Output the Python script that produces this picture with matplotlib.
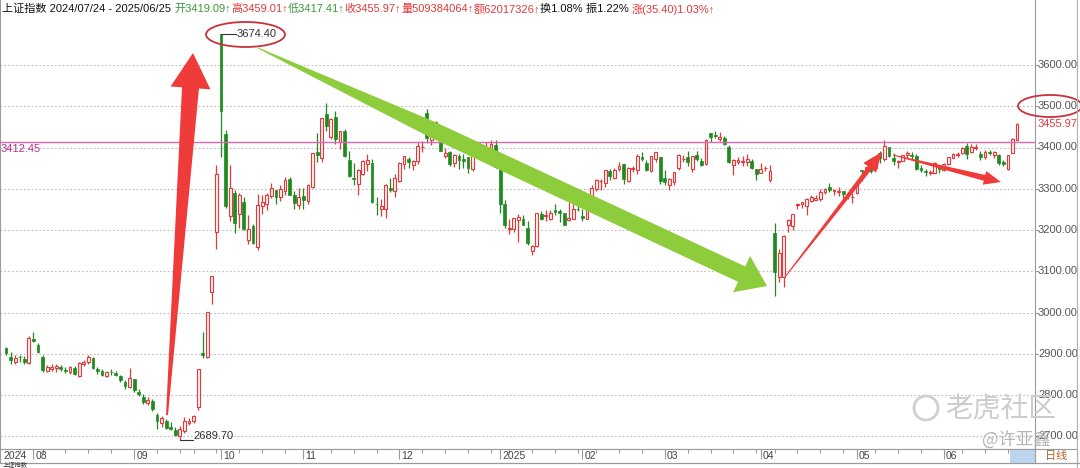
import matplotlib
matplotlib.use('Agg')
import matplotlib.pyplot as plt
import matplotlib.transforms as mtrans
from matplotlib.patches import Polygon, Ellipse, Rectangle
import numpy as np
import pandas as pd

plt.rcParams['font.family'] = ['Liberation Sans', 'Noto Sans CJK SC', 'DejaVu Sans']

# ---- data: 上证指数 daily candles, 2024/07/24 - 2025/06/25 ----
dates = (
    ['2024-07-%02d' % d for d in [24, 25, 26, 29, 30, 31]] +
    ['2024-08-%02d' % d for d in [1, 2, 5, 6, 7, 8, 9, 12, 13, 14, 15, 16, 19, 20, 21, 22, 23, 26, 27, 28, 29, 30]] +
    ['2024-09-%02d' % d for d in [2, 3, 4, 5, 6, 9, 10, 11, 12, 13, 18, 19, 20, 23, 24, 25, 26, 27, 30]] +
    ['2024-10-%02d' % d for d in [8, 9, 10, 11, 14, 15, 16, 17, 18, 21, 22, 23, 24, 25, 28, 29, 30, 31]] +
    ['2024-11-%02d' % d for d in [1, 4, 5, 6, 7, 8, 11, 12, 13, 14, 15, 18, 19, 20, 21, 22, 25, 26, 27, 28, 29]] +
    ['2024-12-%02d' % d for d in [2, 3, 4, 5, 6, 9, 10, 11, 12, 13, 16, 17, 18, 19, 20, 23, 24, 25, 26, 27, 30, 31]] +
    ['2025-01-%02d' % d for d in [2, 3, 6, 7, 8, 9, 10, 13, 14, 15, 16, 17, 20, 21, 22, 23, 24, 27]] +
    ['2025-02-%02d' % d for d in [5, 6, 7, 10, 11, 12, 13, 14, 17, 18, 19, 20, 21, 24, 25, 26, 27, 28]] +
    ['2025-03-%02d' % d for d in [3, 4, 5, 6, 7, 10, 11, 12, 13, 14, 17, 18, 19, 20, 21, 24, 25, 26, 27, 28, 31]] +
    ['2025-04-%02d' % d for d in [1, 2, 3, 7, 8, 9, 10, 11, 14, 15, 16, 17, 18, 21, 22, 23, 24, 25, 28, 29, 30]] +
    ['2025-05-%02d' % d for d in [6, 7, 8, 9, 12, 13, 14, 15, 16, 19, 20, 21, 22, 23, 26, 27, 28, 29, 30]] +
    ['2025-06-%02d' % d for d in [3, 4, 5, 6, 9, 10, 11, 12, 13, 16, 17, 18, 19, 20, 23, 24, 25]]
)

opens = [
    2915, 2893, 2880, 2893, 2887, 2877,
    2936, 2921, 2893, 2858, 2864, 2866, 2867, 2861, 2855, 2866, 2846, 2874, 2881, 2890, 2862, 2858, 2847, 2856, 2854, 2845, 2831, 2820,
    2838, 2807, 2796, 2781, 2786, 2752, 2732, 2738, 2722, 2715, 2700, 2712, 2733, 2737, 2770, 2901, 2893, 3049, 3195,
    3674.40, 3433, 3233, 3290, 3240, 3268, 3176, 3209, 3160, 3259, 3262, 3282, 3296, 3279, 3294, 3323, 3285, 3261,
    3282, 3270, 3305, 3390, 3375, 3480, 3425, 3474, 3414, 3440, 3369, 3327, 3311, 3335, 3360, 3363, 3264, 3250, 3251, 3303, 3294,
    3319, 3361, 3371, 3358, 3368, 3401, 3484, 3419, 3431, 3445, 3380, 3389, 3362, 3380, 3372, 3376, 3349, 3391, 3393, 3396, 3397, 3407,
    3347, 3262, 3203, 3203, 3225, 3226, 3206, 3148, 3161, 3239, 3233, 3226, 3249, 3247, 3240, 3224, 3227, 3252,
    3233, 3227, 3268, 3299, 3318, 3313, 3343, 3325, 3349, 3359, 3320, 3347, 3346, 3378, 3363, 3343, 3372, 3376,
    3325, 3308, 3317, 3350, 3372, 3378, 3348, 3383, 3368, 3359, 3434, 3431, 3421, 3422, 3400, 3358, 3366, 3364, 3364, 3368, 3349,
    3339, 3350, 3321, 3193, 3086, 3085, 3212, 3209, 3261, 3262, 3258, 3271, 3273, 3274, 3293, 3305, 3294, 3291, 3294, 3285, 3279,
    3289, 3346, 3346, 3348, 3351, 3386, 3371, 3402, 3374, 3365, 3368, 3381, 3383, 3379, 3350, 3344, 3339, 3338, 3356,
    3345, 3360, 3374, 3383, 3386, 3403, 3388, 3398, 3384, 3376, 3388, 3383, 3382, 3364, 3349, 3386, 3419.09,
]
highs = [
    2917, 2905, 2897, 2898, 2894, 2942,
    2952, 2926, 2896, 2872, 2874, 2876, 2873, 2869, 2870, 2871, 2881, 2886, 2897, 2893, 2867, 2862, 2858, 2862, 2858, 2849, 2837, 2866,
    2840, 2815, 2802, 2795, 2791, 2756, 2748, 2742, 2735, 2722, 2726, 2746, 2744, 2752, 2864, 2952, 3000, 3088, 3358,
    3674.40, 3442, 3358, 3296, 3290, 3279, 3237, 3214, 3287, 3286, 3290, 3313, 3297, 3308, 3328, 3329, 3294, 3301,
    3302, 3311, 3387, 3434, 3471, 3509, 3471, 3489, 3440, 3446, 3392, 3362, 3348, 3369, 3384, 3373, 3279, 3276, 3311, 3326, 3335,
    3364, 3380, 3376, 3370, 3413, 3415, 3494, 3437, 3464, 3450, 3400, 3392, 3385, 3384, 3384, 3378, 3394, 3396, 3399, 3414, 3417, 3417,
    3352, 3273, 3227, 3230, 3240, 3237, 3223, 3164, 3240, 3246, 3248, 3249, 3263, 3250, 3240, 3268, 3265, 3260,
    3251, 3271, 3308, 3323, 3324, 3346, 3347, 3351, 3364, 3359, 3353, 3355, 3384, 3389, 3369, 3380, 3390, 3376,
    3345, 3325, 3341, 3385, 3383, 3391, 3380, 3391, 3375, 3420, 3435, 3439, 3438, 3429, 3407, 3372, 3378, 3379, 3384, 3372, 3349,
    3362, 3355, 3357, 3217, 3154, 3189, 3227, 3238, 3265, 3268, 3277, 3284, 3285, 3299, 3302, 3313, 3300, 3305, 3294, 3292, 3289,
    3317, 3346, 3353, 3351, 3371, 3391, 3417, 3402, 3387, 3369, 3382, 3391, 3388, 3384, 3358, 3347, 3346, 3364, 3358,
    3362, 3378, 3387, 3389, 3402, 3410, 3408, 3409, 3391, 3393, 3395, 3392, 3384, 3369, 3382, 3422, 3459.01,
]
lows = [
    2898, 2874, 2876, 2881, 2875, 2874,
    2929, 2903, 2855, 2855, 2858, 2856, 2857, 2854, 2852, 2848, 2843, 2870, 2876, 2864, 2852, 2845, 2844, 2848, 2845, 2832, 2815, 2816,
    2808, 2797, 2778, 2776, 2762, 2718, 2722, 2718, 2715, 2701, 2689.70, 2708, 2727, 2731, 2763, 2889, 2889, 3020, 3154,
    3377, 3254, 3221, 3193, 3205, 3199, 3165, 3165, 3152, 3240, 3248, 3277, 3263, 3271, 3284, 3284, 3250, 3252,
    3252, 3262, 3302, 3365, 3366, 3440, 3420, 3409, 3396, 3378, 3329, 3309, 3286, 3333, 3344, 3265, 3237, 3234, 3228, 3291, 3281,
    3316, 3349, 3350, 3346, 3360, 3388, 3411, 3407, 3421, 3391, 3375, 3354, 3353, 3347, 3350, 3339, 3344, 3374, 3383, 3390, 3391, 3350,
    3242, 3205, 3191, 3196, 3170, 3211, 3164, 3140, 3159, 3225, 3222, 3225, 3237, 3220, 3212, 3223, 3227, 3245,
    3223, 3226, 3265, 3295, 3298, 3305, 3322, 3323, 3342, 3311, 3316, 3341, 3336, 3368, 3342, 3341, 3364, 3311,
    3310, 3296, 3310, 3345, 3365, 3354, 3340, 3368, 3355, 3358, 3413, 3423, 3416, 3405, 3362, 3333, 3360, 3356, 3356, 3347, 3322,
    3337, 3344, 3316, 3040.69, 3073, 3063, 3194, 3200, 3250, 3254, 3237, 3268, 3273, 3271, 3287, 3293, 3286, 3283, 3275, 3275, 3265,
    3288, 3320, 3336, 3338, 3346, 3363, 3368, 3378, 3358, 3350, 3367, 3375, 3371, 3346, 3340, 3330, 3334, 3337, 3339,
    3343, 3358, 3374, 3377, 3385, 3373, 3386, 3395, 3370, 3372, 3381, 3374, 3358, 3355, 3346, 3386, 3417.41,
]
closes = [
    2901, 2886, 2890, 2891, 2879, 2938,
    2932, 2905, 2861, 2867, 2869, 2870, 2862, 2858, 2868, 2850, 2877, 2879, 2893, 2866, 2857, 2848, 2855, 2855, 2848, 2837, 2823, 2842,
    2811, 2802, 2784, 2788, 2765, 2736, 2744, 2721, 2717, 2704, 2717, 2736, 2736.8, 2748, 2863, 2896, 3000, 3088, 3336,
    3489, 3258, 3301, 3217, 3284, 3202, 3202, 3169, 3261, 3268, 3285, 3302, 3280, 3300, 3322, 3286, 3266, 3279,
    3272, 3310, 3387, 3383, 3471, 3452, 3470, 3421, 3439, 3380, 3330, 3324, 3346, 3368, 3370, 3267, 3263, 3259, 3310, 3296, 3326,
    3363, 3379, 3364, 3368, 3404, 3402, 3422, 3432, 3461, 3391, 3386, 3361, 3382, 3370, 3368, 3351, 3393, 3394, 3398, 3400, 3408, 3352,
    3262, 3211, 3206, 3230, 3231, 3211, 3169, 3160, 3240, 3227, 3236, 3241, 3244, 3242, 3213, 3230, 3252, 3250,
    3229, 3270, 3303, 3322, 3318, 3346, 3332, 3346, 3355, 3324, 3351, 3350, 3379, 3373, 3346, 3380, 3388, 3320,
    3316, 3324, 3341, 3381, 3372, 3366, 3379, 3371, 3358, 3419, 3426, 3429, 3426, 3408, 3364, 3370, 3369, 3368, 3373, 3351, 3336,
    3348, 3350, 3342, 3097, 3145, 3186, 3224, 3238, 3263, 3267, 3276, 3281, 3277, 3292, 3300, 3296, 3297, 3295, 3288, 3286, 3279,
    3316, 3343, 3352, 3342, 3370, 3374, 3404, 3380, 3367, 3367, 3381, 3387, 3380, 3348, 3346, 3340, 3340, 3363, 3347,
    3361, 3376, 3384, 3385, 3399, 3385, 3402, 3402, 3377, 3388, 3387, 3388, 3362, 3359, 3381, 3420.57, 3455.97,
]

ref_level = 3412.45
price_levels = [2700, 2800, 2900, 3000, 3100, 3200, 3300, 3400, 3500, 3600]
last_volume = 509384064
last_amount = 62017326
last_turnover = 1.08

RED = '#e23a3a'
GREEN = '#1f8a1f'
ARROW_RED = '#f03b3b'
ARROW_GREEN = '#8dcc3a'
GRAY = '#9a9a9a'

W, H = 1080, 468


def fx(x):
    return x / W


def fy(y):
    return 1 - y / H


# pixel mapping of the original chart
STEP = 4.575          # px per trading day
X0 = 6                # px of first candle
PPX = 0.4125          # px per index point


def price_at(y):
    return 3600 - (y - 65) / PPX


def idx_at(x):
    return (x - X0) / STEP


fig = plt.figure(figsize=(W / 100, H / 100), dpi=100)
fig.patch.set_facecolor('white')
T_px = mtrans.Affine2D().scale(1 / W, -1 / H).translate(0, 1) + fig.transFigure

ax = fig.add_axes([0, fy(449), 1035 / W, 449 / H])
ax.set_xlim(idx_at(0), idx_at(1035))
ax.set_ylim(price_at(449), price_at(0))
ax.set_xticks([])
ax.set_yticks([])
ax.spines['top'].set_visible(False)
for s in ['left', 'right', 'bottom']:
    ax.spines[s].set_color(GRAY)
    ax.spines[s].set_linewidth(0.8)

# grid
for lv in price_levels:
    ax.axhline(lv, color='#bdbdbd', lw=0.8, ls=(0, (1.5, 2)), zorder=0)
    ax.plot([1.0, 1.003], [lv, lv], transform=ax.get_yaxis_transform(),
            color=GRAY, lw=0.8, clip_on=False)
    ax.text(1038 / 1035, lv, '%.2f' % lv, transform=ax.get_yaxis_transform(),
            ha='left', va='center', fontsize=8, color='#555555', clip_on=False)

# reference line
ax.axhline(ref_level, color='#e066b0', lw=1.0, zorder=3)
ax.text(idx_at(1), ref_level - 3, '%.2f' % ref_level, ha='left', va='top',
        fontsize=8, color='#c0308f')

# candles
x = np.arange(len(dates))
o = np.array(opens, float)
h = np.array(highs, float)
l = np.array(lows, float)
c = np.array(closes, float)
up = c >= o
lo_b = np.minimum(o, c)
hi_b = np.maximum(o, c)
hgt = np.maximum(hi_b - lo_b, 0.8)
bw = 0.62

ax.vlines(x[~up], l[~up], h[~up], color=GREEN, lw=0.9, zorder=2)
ax.bar(x[~up], hgt[~up], bottom=lo_b[~up], width=bw, color=GREEN,
       edgecolor=GREEN, linewidth=0.5, zorder=2)
ax.vlines(x[up], hi_b[up], h[up], color=RED, lw=0.9, zorder=2)
ax.vlines(x[up], l[up], lo_b[up], color=RED, lw=0.9, zorder=2)
ax.bar(x[up], hgt[up], bottom=lo_b[up], width=bw, facecolor='#fff0f0',
       edgecolor=RED, linewidth=0.8, zorder=2)

# high / low marks
ih = int(np.argmax(h))
il = int(np.argmin(l))
ax.plot([ih, ih + 3.2], [h[ih], h[ih]], color='#333333', lw=0.8, zorder=4)
ax.text(ih + 3.3, h[ih], '%.2f' % h[ih], ha='left', va='center', fontsize=8,
        color='#333333', zorder=4)
ax.plot([il, il + 2.8], [l[il], l[il]], color='#333333', lw=0.8, zorder=4)
ax.text(il + 2.9, l[il] + 10, '%.2f' % l[il], ha='left', va='center', fontsize=8,
        color='#333333', zorder=4)

# last close on right axis
ax.text(1038 / 1035, c[-1], '%.2f' % c[-1], transform=ax.get_yaxis_transform(),
        ha='left', va='center', fontsize=8, color=RED, clip_on=False)

# bottom date strip
ax2 = fig.add_axes([0, fy(463), 1035 / W, 14 / H])
ax2.set_xlim(ax.get_xlim())
ax2.set_ylim(0, 1)
ax2.set_xticks([])
ax2.set_yticks([])
for s in ax2.spines.values():
    s.set_color(GRAY)
    s.set_linewidth(0.8)
dt = pd.to_datetime(pd.Series(dates))
mon = dt.dt.month.to_numpy()
wk = dt.dt.isocalendar().week.astype(int).to_numpy()
month_start = np.r_[False, mon[1:] != mon[:-1]]
week_start = np.r_[False, wk[1:] != wk[:-1]]
ax2.vlines(x[week_start & ~month_start], 0.72, 1, color=GRAY, lw=0.8)
ax2.vlines(x[month_start], 0.3, 1, color=GRAY, lw=0.8)
ax2.text(idx_at(3), 0.5, '2024', ha='left', va='center', fontsize=7.5, color='#444444')
for i in x[month_start]:
    d = dt.iloc[i]
    lab = str(d.year) if d.month == 1 else '%02d' % d.month
    ax2.text(i + 0.45, 0.5, lab, ha='left', va='center', fontsize=7.5, color='#444444')

# right column border / 日线 tab
fig.add_artist(plt.Line2D([fx(1077), fx(1077)], [0, 1], color='#b0b0b0', lw=0.8))
fig.add_artist(Rectangle((1010, 450), 25, 13, transform=T_px, facecolor='#bcd5ef',
                         edgecolor='none'))
fig.add_artist(Rectangle((1035, 449), 42, 14, transform=T_px, facecolor='white',
                         edgecolor=GRAY, lw=0.8))
fig.text(fx(1056), fy(456), '日线', ha='center', va='center', fontsize=8, color='#b8602a')
fig.add_artist(plt.Line2D([0, 1], [fy(463), fy(463)], color=GRAY, lw=0.8))
fig.text(fx(3), fy(465.5), '上证指数', ha='left', va='center', fontsize=4.5, color='#333333')


# arrows
def arrow_poly(tail, tip, profile, head_half, head_len):
    tail = np.array(tail, float)
    tip = np.array(tip, float)
    d = tip - tail
    L = np.hypot(*d)
    d /= L
    n = np.array([-d[1], d[0]])
    base = L - head_len
    left, right = [], []
    for t, hw in profile:
        p = tail + d * base * t
        left.append(p + n * hw)
        right.append(p - n * hw)
    cb = tail + d * base
    head = [cb + n * head_half, tip, cb - n * head_half]
    return np.array(left + head + right[::-1])


arrows = [
    ((167, 415), (193, 53), [(0, 1.0), (1, 8.5)], 20, 35, ARROW_RED),
    ((258, 48), (767, 286), [(0, 0.5), (0.36, 8.0), (1, 8.5)], 20, 28, ARROW_GREEN),
    ((785, 277), (882, 152), [(0, 0.5), (1, 2.6)], 8, 20, ARROW_RED),
    ((893, 155), (1001, 182), [(0, 0.5), (1, 3.0)], 7, 17, ARROW_RED),
]
for tail, tip, prof, hh, hl, col in arrows:
    fig.add_artist(Polygon(arrow_poly(tail, tip, prof, hh, hl), closed=True,
                           transform=T_px, facecolor=col, edgecolor='none'))

# highlight ellipses
for (cx, cy, ew, eh) in [(245.5, 34.5, 79, 25), (1050, 106, 64, 22)]:
    fig.add_artist(Ellipse((cx, cy), ew, eh, transform=T_px, fill=False,
                           edgecolor='#c8323c', lw=1.3))

# header line
r = fig.canvas.get_renderer()
segments = [
    ('上证指数 %s - %s ' % (dates[0].replace('-', '/'), dates[-1].replace('-', '/')), '#111111'),
    ('开%.2f↑' % o[-1], '#3a9a3a'),
    ('高%.2f↑' % h[-1], RED),
    ('低%.2f↑' % l[-1], '#3a9a3a'),
    ('收%.2f↑' % c[-1], RED),
    ('量%d↑' % last_volume, RED),
    ('额%d↑' % last_amount, RED),
    ('换%.2f%% ' % last_turnover, '#111111'),
    ('振%.2f%% ' % ((h[-1] - l[-1]) / c[-2] * 100), '#111111'),
    ('涨(%.2f)%.2f%%↑' % (c[-1] - c[-2], (c[-1] - c[-2]) / c[-2] * 100), RED),
]
xpos = 2
for txt, col in segments:
    t = fig.text(fx(xpos), fy(9), txt, ha='left', va='center', fontsize=8, color=col)
    xpos = t.get_window_extent(r).x1

# watermark
fig.add_artist(Ellipse((926, 408), 24, 24, transform=T_px, fill=False,
                       edgecolor='#d0d0d0', lw=2))
fig.text(fx(945), fy(409), '老虎社区', ha='left', va='center', fontsize=20,
         color='#cccccc', family=['Noto Sans CJK SC'])
fig.text(fx(982), fy(441), '@许亚鑫', ha='left', va='center', fontsize=12.5,
         color='#b5b5b5', family=['Noto Sans CJK SC'])

fig.savefig('out.png', dpi=100)
